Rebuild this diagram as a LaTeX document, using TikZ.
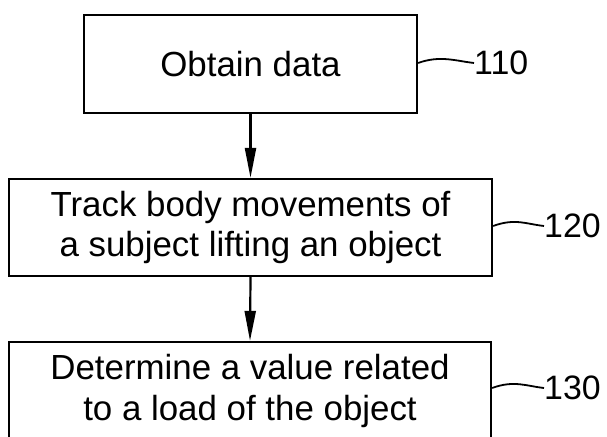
\documentclass[tikz,border=0pt]{standalone}
\usepackage{fontspec}
\setmainfont{Liberation Sans}
\usetikzlibrary{arrows.meta}
\tikzset{
  stepbox/.style={draw, line width=2.2bp, align=center, inner sep=0pt,
    font=\fontsize{35}{41}\selectfont},
  flow/.style={draw, line width=2.2bp, -{Triangle[length=30bp,width=11bp]}},
  refnum/.style={anchor=west, inner sep=0pt, font=\fontsize{34}{36}\selectfont},
  leader/.style={draw, line width=1.8bp}
}
\begin{document}
\begin{tikzpicture}[x=1bp,y=-1bp]
  \clip (0,0) rectangle (607,437);
  \fill[white] (0,0) rectangle (607,437);

  % process steps
  \node[stepbox, minimum width=333bp, minimum height=98bp] (s1) at (250.5,64)
    {Obtain data};
  \node[stepbox, minimum width=483bp, minimum height=97bp] (s2) at (250.5,227.5)
    {Track body movements of\\a subject lifting an object};
  \node[stepbox, minimum width=482bp, minimum height=98bp] (s3) at (250,391)
    {Determine a value related\\to a load of the object};

  % flow arrows
  \draw[flow] (s1.south) -- (s2.north);
  \draw[flow] (s2.south) -- (s3.north);

  % reference numerals
  \node[refnum] (r1) at (474,63) {110};
  \node[refnum] (r2) at (544,226) {120};
  \node[refnum] (r3) at (544,388) {130};

  % leader lines
  \draw[leader] (s1.east |- r1.west) .. controls +(22,-8) and +(-18,-2) .. (r1.west);
  \draw[leader] (s2.east |- r2.west) .. controls +(22,-8) and +(-18,-2) .. (r2.west);
  \draw[leader] (s3.east |- r3.west) .. controls +(22,-8) and +(-18,-2) .. (r3.west);
\end{tikzpicture}
\end{document}
